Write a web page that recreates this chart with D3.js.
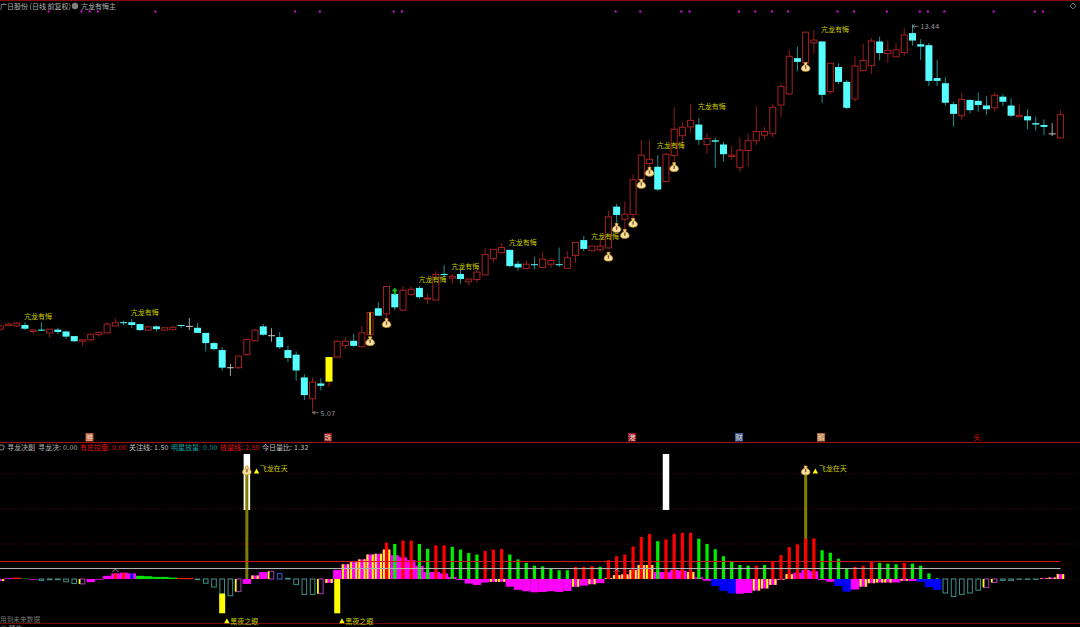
<!DOCTYPE html>
<html><head><meta charset="utf-8">
<script src="https://cdn.jsdelivr.net/npm/d3@7"></script>
<style>html,body{margin:0;padding:0;background:#000;overflow:hidden}svg{display:block}
text{font-family:"Noto Sans CJK SC","Liberation Sans",sans-serif}</style></head><body>
<script>
// --- daily candles (price) ---
const opens=[6.87,6.95,6.94,6.96,6.82,6.86,6.79,6.86,6.82,6.72,6.61,6.64,6.75,6.79,6.94,7.02,7.02,6.98,6.85,6.93,6.85,6.86,6.96,6.94,6.90,6.79,6.57,6.42,6.05,6.04,6.32,6.62,6.93,6.74,6.70,6.42,6.32,5.83,5.37,5.70,5.74,6.27,6.52,6.62,6.49,6.75,7.32,7.20,7.63,7.28,7.62,7.76,7.52,7.50,8.06,7.97,8.06,7.89,7.94,8.04,8.39,8.52,8.58,8.28,8.18,8.27,8.20,8.27,8.27,8.18,8.46,8.79,8.56,8.58,8.62,9.51,9.24,9.34,10.09,10.44,10.37,10.05,10.61,11.04,11.23,11.28,10.85,10.94,10.85,10.59,10.35,10.72,10.93,11.05,11.08,11.70,11.94,12.71,12.61,13.04,13.07,11.99,12.52,12.20,11.83,12.44,12.55,13.07,12.81,12.74,12.83,13.25,13.01,12.99,12.28,12.17,11.72,11.47,11.81,11.79,11.69,11.64,11.88,11.69,11.45,11.46,11.31,11.27,11.09,10.99];
const closes=[6.94,6.98,7.00,6.88,6.85,6.84,6.87,6.81,6.71,6.61,6.64,6.76,6.80,6.98,7.01,7.00,6.96,6.85,6.92,6.87,6.90,6.91,6.94,6.93,6.79,6.57,6.44,6.04,6.03,6.29,6.65,6.85,6.75,6.72,6.48,6.25,5.98,5.45,5.73,5.65,6.27,6.61,6.61,6.51,6.79,7.23,7.16,7.79,7.34,7.71,7.73,7.56,7.54,8.05,8.04,8.01,7.95,7.95,8.10,8.48,8.59,8.63,8.23,8.20,8.27,8.25,8.38,8.35,8.25,8.41,8.74,8.60,8.66,8.66,9.29,9.33,9.35,10.09,10.62,10.53,9.88,10.64,11.18,11.22,11.37,10.95,10.98,10.91,10.64,10.62,10.73,10.93,11.13,11.13,11.65,12.10,12.75,12.63,13.27,13.10,11.92,12.60,12.20,11.64,12.54,12.66,13.08,12.82,12.88,12.89,13.21,13.09,12.96,12.22,12.22,11.75,11.51,11.82,11.59,11.70,11.61,11.91,11.77,11.47,11.48,11.37,11.28,11.23,11.07,11.49];
const highs=[6.95,7.00,7.02,7.02,6.87,7.02,6.87,6.90,6.84,6.72,6.65,6.78,6.82,7.02,7.10,7.05,7.09,6.99,6.92,6.95,6.90,6.95,6.96,7.11,7.00,6.79,6.59,6.48,6.12,6.29,6.65,6.87,6.98,6.89,6.81,6.51,6.39,5.90,5.83,5.81,6.27,6.64,6.70,6.77,6.94,7.24,7.45,7.79,7.76,7.80,7.79,7.80,7.63,8.12,8.25,8.06,8.18,7.95,8.15,8.61,8.59,8.72,8.58,8.34,8.35,8.43,8.54,8.40,8.63,8.55,8.74,8.88,8.66,8.79,9.42,9.57,9.63,10.21,10.95,10.95,10.62,10.67,11.65,11.34,11.72,11.42,11.09,11.00,10.91,10.82,11.00,11.09,11.68,11.23,11.72,12.15,12.89,12.96,13.27,13.32,13.07,12.60,12.60,12.24,12.76,13.02,13.15,13.17,13.09,13.03,13.36,13.44,13.12,13.04,12.67,12.30,11.77,11.97,11.82,11.97,11.89,11.97,11.93,11.84,11.71,11.61,11.45,11.39,11.31,11.59];
const lows=[6.85,6.94,6.92,6.85,6.77,6.83,6.69,6.76,6.66,6.59,6.51,6.61,6.71,6.79,6.94,6.95,6.90,6.83,6.85,6.82,6.85,6.85,6.89,6.85,6.79,6.39,6.41,5.98,5.86,6.01,6.29,6.62,6.73,6.60,6.44,6.16,5.76,5.34,5.07,5.55,5.63,6.26,6.45,6.49,6.49,6.74,7.16,7.09,7.28,7.27,7.59,7.52,7.41,7.50,7.93,7.86,7.85,7.81,7.87,8.04,8.30,8.50,8.20,8.13,8.17,8.16,8.20,8.19,8.21,8.18,8.30,8.55,8.56,8.53,8.62,9.11,9.02,9.24,10.09,10.34,9.85,10.05,10.44,10.77,11.09,10.84,10.65,10.35,10.48,10.52,10.26,10.37,10.84,10.96,11.00,11.45,11.92,12.43,12.61,12.80,11.74,11.94,12.15,11.61,11.77,12.44,12.37,12.66,12.61,12.74,12.76,12.98,12.67,12.11,12.11,11.69,11.23,11.38,11.52,11.56,11.49,11.56,11.68,11.44,11.44,11.18,11.15,11.05,11.03,10.97];
const greyCandles=[23,28,33,128];
const yellowCandles=[40];
const goldCoreCandles=[45];
const arrowCandles=[48];
const signalDays=[6,10,11,12,19,36,39,48,49,75,78,83,84,90,92,94,96,102,104,108,112,113,115,121,126,127];
const kanglongDays=[3,16,51,55,62,72,80,85,100];
const kanglongPrices=[7.15,7.24,7.95,8.23,8.75,8.86,10.84,11.66,13.34];
const bagDays=[45,47,74,75,76,77,78,79,82,98];
const bagPrices=[6.61,7.00,8.43,9.05,8.92,9.16,10.00,10.26,10.36,12.52];
// --- lower panel ---
const histValues=[-0.3,0.1,0.2,0.05,-0.1,-0.2,-0.1,-0.1,-0.4,-0.65,-0.7,-0.45,-0.1,0.45,0.8,0.9,0.8,0.45,0.4,0.3,0.3,0.2,0.15,0.15,-0.1,-0.6,-1.15,-2.1,-2.4,-1.8,-0.7,0.5,1.0,1.1,0.8,0.1,-0.8,-2.2,-2.2,-2.1,-0.55,1.3,2.1,2.4,2.8,3.5,3.6,4.2,3.4,3.1,2.7,1.9,1.0,1.0,0.8,0.3,-0.15,-0.65,-0.85,-0.5,-0.4,-0.4,-1.1,-1.55,-1.75,-1.9,-1.85,-1.75,-1.85,-1.7,-1.1,-0.95,-0.75,-0.6,0.1,0.55,0.65,1.3,2.0,2.0,1.0,1.0,1.3,1.2,1.0,0.25,-0.25,-1.0,-1.7,-2.05,-2.1,-2.0,-1.65,-1.35,-0.85,-0.1,0.7,0.9,1.3,1.1,-0.15,-0.4,-1.0,-1.8,-1.5,-1.1,-0.6,-0.5,-0.5,-0.5,-0.25,-0.3,-0.4,-1.15,-1.55,-2.0,-2.5,-2.2,-2.0,-1.6,-1.2,-0.5,-0.2,-0.2,-0.05,-0.05,-0.05,0.1,0.2,0.7];
const histKinds="ymrgm"+"hhhhh"+"kmmm"+"RRB"+"ggggg"+"rr"+"hhhhh"+"kmymkc"+"hhhh"+"kym"+"yyyyyy"+"mmmmmmmmmmmm"+"yy"+"mmmmmmmm"+"ymym"+"yyyyyy"+"mmmm"+"y"+"mm"+"bbb"+"mm"+"yyyyy"+"mmmmm"+"bb"+"m"+"yyyy"+"m"+"y"+"m"+"bbb"+"hhhhh"+"kk"+"hhhhh"+"yyy";
const thinFirstDay=47;
const thinValues=[5.2,5.0,5.5,5.5,5.0,4.3,4.8,4.8,4.6,4.2,3.7,3.5,4.0,4.2,4.3,3.5,2.8,2.3,1.9,1.8,1.55,1.25,1.25,1.75,1.75,1.85,1.75,2.7,3.25,3.5,4.65,6.0,6.45,5.4,5.65,6.45,6.6,6.6,5.75,5.0,4.25,3.25,2.45,2.0,1.9,1.9,2.0,2.45,3.4,4.55,4.95,5.75,5.8,4.1,3.75,2.9,1.5,1.75,1.9,2.45,2.3,2.2,2.1,2.3,2.2,1.9,0.8,0.1];
const thinKinds="rgrrggrrggggrrr"+"gggggggg"+"rrrg"+"rrrrrr"+"g"+"rrrr"+"ggggggg"+"rg"+"rrrrrr"+"gggg"+"rrr"+"ggg"+"r"+"gggg";
const whiteBarDays=[30,81];
const whiteBarRange=[9.86,17.86];
const oliveDays=[30,98];
const oliveTop=15;
const nightDays=[27,41];
const nightRanges=[[-2.1,-4.9],[0,-4.9]];
const dragonDays=[30,98];
const eyeDays=[27,41];
const caretDays=[14,75];
const caretValues=[1.0,1.0];
const refLines=[{v:2.5,c:"#d01414"},{v:1.5,c:"#b4b4b4"}];
const gridLevels=[0,5,10,15];
const legend=[["寻龙决副","#b0b0b0",7],["寻龙决:","#b0b0b0",38],["0.00","#b0b0b0",63],["有庄控盘:","#e01010",80],["0.00","#e01010",112],["关注线:","#c0c0c0",129],["1.50","#c0c0c0",154],["明星放量:","#0fa0a0",171],["0.00","#0fa0a0",203],["放量线:","#e01010",220],["2.50","#e01010",245],["今日量比:","#c0c0c0",262],["1.32","#c0c0c0",294]];
const tags=[["勝",89.5,"#b5552a"],["珠",328,"#8a1a1a"],["港",632,"#8f1d2a"],["财",739,"#2a5a9a"],["鹅",821,"#b56a2a"],["头",977,null]];

const W=1080,H=627;
const svg=d3.select("body").append("svg").attr("width",W).attr("height",H).style("background","#000");
const x=d3.scaleLinear().domain([0,129]).range([0.3,1060.4]);
const y=d3.scaleLinear().domain([5.07,13.44]).range([412.7,24.3]);
const v=d3.scaleLinear().domain([0,15]).range([579,474]);
const days=d3.range(opens.length);

// frame lines
[[0.5,"#8a0a0a"],[442.5,"#a01010"],[623.5,"#700808"]].forEach(([py,c])=>svg.append("line").attr("x1",0).attr("x2",W).attr("y1",py).attr("y2",py).attr("stroke",c));

// candles
const RED="#a62222",CY="#55ffff";
const gc=svg.append("g");
days.forEach(i=>{
  const up=closes[i]>opens[i],cx=x(i);
  const grey=greyCandles.includes(i),yel=yellowCandles.includes(i);
  const wick=grey?"#a0a0a0":yel?"#a62222":up?"#8f1c1c":"#1f9090";
  gc.append("line").attr("x1",cx).attr("x2",cx).attr("y1",y(highs[i])).attr("y2",y(lows[i])).attr("stroke",wick).attr("stroke-width",1);
  const t=y(Math.max(opens[i],closes[i])),b=y(Math.min(opens[i],closes[i]));
  const h=Math.max(b-t,1);
  if(yel){gc.append("rect").attr("x",cx-3.5).attr("y",t).attr("width",7).attr("height",h).attr("fill","#ffff00");}
  else if(grey){gc.append("rect").attr("x",cx-3.5).attr("y",t).attr("width",7).attr("height",h).attr("fill","#c8c8c8");}
  else if(up){gc.append("rect").attr("x",cx-3).attr("y",t).attr("width",6).attr("height",h).attr("fill","#000").attr("stroke",RED).attr("stroke-width",1);}
  else {gc.append("rect").attr("x",cx-3.5).attr("y",t).attr("width",7).attr("height",h).attr("fill",CY);}
});
goldCoreCandles.forEach(i=>{
  gc.append("line").attr("x1",x(i)).attr("x2",x(i)).attr("y1",y(closes[i])).attr("y2",y(opens[i])).attr("stroke","#e0b010").attr("stroke-width",2);
});
arrowCandles.forEach(i=>{
  const cx=x(i),t=y(highs[i]);
  gc.append("path").attr("d",`M${cx},${t}l3,3.5h-2v3.5h-2v-3.5h-2z`).attr("fill","#10c010");
});

// signal dots
svg.append("g").selectAll("rect").data(signalDays).join("rect")
  .attr("x",d=>x(d)-2).attr("y",10.5).attr("width",2).attr("height",2).attr("fill","#e010e0");

// money bag
function bag(g,cx,cy){
  g.append("path").attr("d",`M${cx-1.5},${cy-4.5}h3l-0.6,2.2c2.4,0.8,3.4,2.6,3.4,4c0,1.8,-1.8,2.6,-4.3,2.6s-4.3,-0.8,-4.3,-2.6c0,-1.4,1,-3.2,3.4,-4z`)
   .attr("fill","#f5e0a8").attr("stroke","#d8a020").attr("stroke-width",0.8);
  g.append("rect").attr("x",cx-0.7).attr("y",cy-1.6).attr("width",1.4).attr("height",3.4).attr("fill","#8a5a20");
}
const gb=svg.append("g");
bagDays.forEach((d,j)=>bag(gb,x(d),y(bagPrices[j])));

// kanglong labels
svg.append("g").selectAll("text").data(kanglongDays).join("text")
  .attr("x",d=>x(d)-1).attr("y",(d,j)=>y(kanglongPrices[j])+2.6)
  .attr("font-size",7).attr("fill","#c8c800").text("亢龙有悔");

// price extreme labels
function extreme(hi,day,px,str){
  const cx=x(day),cy=y(px);
  svg.append("line").attr("x1",cx).attr("x2",cx+6).attr("y1",cy+(hi?2:0)).attr("y2",cy+(hi?2:0)).attr("stroke","#999").attr("stroke-width",0.8);
  svg.append("text").attr("x",cx+8).attr("y",cy+(hi?4.5:3)).attr("font-size",7).attr("fill","#999").attr("font-family","Liberation Sans").attr("letter-spacing",0.3).text(str);
  svg.append("path").attr("d",`M${cx+2.5},${cy+(hi?0:-1.5)}l-2.5,${hi?2:1.5}l2.5,${hi?2:1.5}`).attr("fill","none").attr("stroke","#999").attr("stroke-width",0.7);
}
extreme(false,38,5.07,"5.07");
extreme(true,111,13.44,"13.44");

// header texts
svg.append("text").attr("x",0).attr("y",8.5).attr("font-size",7).attr("fill","#b0b0b0").text("广日股份 (日线 前复权)");
svg.append("circle").attr("cx",75).attr("cy",6).attr("r",3.2).attr("fill","#808080");
svg.append("text").attr("x",81).attr("y",8.5).attr("font-size",7).attr("fill","#b0b0b0").text("亢龙有悔主");
svg.append("path").attr("d","M1073,3l3,3l-3,3l-3,-3z").attr("fill","none").attr("stroke","#666");

// tags
tags.forEach(([s,cx,c])=>{
  if(c) svg.append("rect").attr("x",cx-4).attr("y",433).attr("width",8).attr("height",8.5).attr("fill",c);
  svg.append("text").attr("x",cx).attr("y",440).attr("text-anchor","middle").attr("font-size",7).attr("fill",c?"#f0dcc8":"#e01010").text(s);
});

// legend
svg.append("circle").attr("cx",1.5).attr("cy",447.5).attr("r",2.6).attr("fill","none").attr("stroke","#909090");
legend.forEach(([s,c,px])=>{
  const num=/^[0-9.]+$/.test(s);
  svg.append("text").attr("x",px).attr("y",450).attr("font-size",7).attr("fill",c)
    .attr("font-family",num?"Liberation Sans":null).attr("letter-spacing",num?0.3:null).text(s);
});

// lower panel grid & reference lines
gridLevels.forEach(l=>svg.append("line").attr("x1",0).attr("x2",W).attr("y1",v(l)).attr("y2",v(l)).attr("stroke","#601010").attr("stroke-dasharray","1,2").attr("stroke-width",0.8));

// white bars
const gl=svg.append("g");
whiteBarDays.forEach(d=>gl.append("rect").attr("x",x(d)-3.2).attr("y",v(whiteBarRange[1])).attr("width",6.5).attr("height",v(whiteBarRange[0])-v(whiteBarRange[1])).attr("fill","#fff"));

// main histogram
const KC={m:"#ff00ff",y:"#ff00ff",r:"#ff1010",g:"#00e000",b:"#0000ff",R:"#ff00ff",B:"#ff00ff"};
const HOLLOW={h:"#3f8f8a",k:"#a040b0",c:"#2a60d0"};
days.forEach(i=>{
  const val=histValues[i],k=histKinds[i],cx=x(i);
  const t=Math.min(v(val),v(0)),h=Math.abs(v(val)-v(0));
  if(HOLLOW[k]){
    gl.append("rect").attr("x",cx-2.3).attr("y",t).attr("width",4.6).attr("height",h).attr("fill","none").attr("stroke",HOLLOW[k]).attr("stroke-width",1);
    if(k==="k") gl.append("rect").attr("x",cx-3.8).attr("y",t).attr("width",1.6).attr("height",h).attr("fill","#ffff00");
  } else {
    gl.append("rect").attr("x",cx-4.11).attr("y",t).attr("width",8.3).attr("height",h).attr("fill",KC[k]);
    if(k==="y"){
      [-3.5,1.7].forEach(o=>gl.append("rect").attr("x",cx+o).attr("y",t).attr("width",1.9).attr("height",h).attr("fill","#ffff00"));
    }
    if(k==="R"||k==="B"){
      gl.append("rect").attr("x",cx-1.6).attr("y",t).attr("width",3.2).attr("height",h).attr("fill",k==="R"?"#ff1010":"#1010e0");
    }
  }
});

// yellow night bars
nightDays.forEach((d,j)=>gl.append("rect").attr("x",x(d)-3).attr("y",v(nightRanges[j][0])).attr("width",6).attr("height",v(nightRanges[j][1])-v(nightRanges[j][0])).attr("fill","#ffff00"));

// olive columns
oliveDays.forEach(d=>gl.append("rect").attr("x",x(d)-1.5).attr("y",v(oliveTop)).attr("width",3).attr("height",v(0)-v(oliveTop)).attr("fill","#807d00"));

// thin bars
thinValues.forEach((val,j)=>{
  const d=thinFirstDay+j;
  gl.append("rect").attr("x",x(d)-1.6).attr("y",v(val)).attr("width",3.2).attr("height",v(0)-v(val)).attr("fill",thinKinds[j]==="r"?"#ff0000":"#00f000");
});

// small carets
caretDays.forEach((d,j)=>gl.append("path").attr("d",`M${x(d)-3},${v(caretValues[j])}l3,-3l3,3`).attr("fill","none").attr("stroke","#a8a8a8").attr("stroke-width",0.8));

// reference lines
refLines.forEach(r=>svg.append("line").attr("x1",0).attr("x2",x(129)).attr("y1",v(r.v)).attr("y2",v(r.v)).attr("stroke",r.c).attr("stroke-width",1));

// top of panel markers
dragonDays.forEach(d=>{
  bag(svg.append("g"),x(d),v(15.5));
  svg.append("path").attr("d",`M${x(d)+7},${v(15.5)+3}l2.7,-5l2.7,5z`).attr("fill","#ffff00");
  svg.append("text").attr("x",x(d)+13).attr("y",v(15.5)+0).attr("font-size",7).attr("fill","#c8c800").text("飞龙在天");
});
eyeDays.forEach(d=>{
  svg.append("path").attr("d",`M${x(d)+2},${v(-5.9)+3}l2.7,-5l2.7,5z`).attr("fill","#ffff00");
  svg.append("text").attr("x",x(d)+8).attr("y",v(-5.9)+3.5).attr("font-size",7).attr("fill","#c8c800").text("黑夜之眼");
});

// footer text
svg.append("text").attr("x",0).attr("y",621.5).attr("font-size",6.7).attr("fill","#707070").text("用到未来数据");
svg.append("text").attr("x",0).attr("y",630.5).attr("font-size",7).attr("fill","#808080").text("◎ 预告");
</script></body></html>
